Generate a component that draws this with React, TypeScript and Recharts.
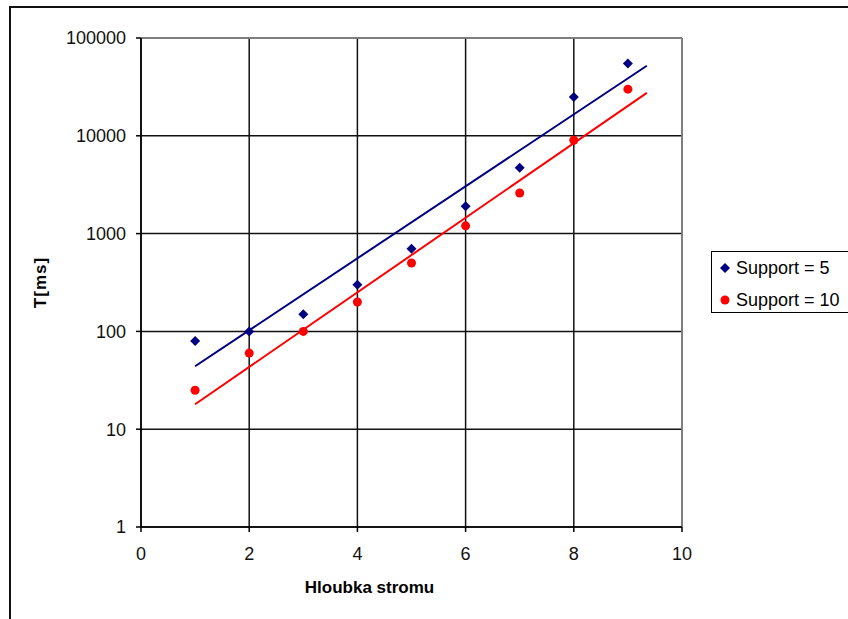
import {
  CartesianGrid,
  Legend,
  ReferenceLine,
  Scatter,
  ScatterChart,
  XAxis,
  YAxis,
} from "recharts";

// hloubka stromu (x) a namerene casy T[ms]
const depth = [1, 2, 3, 4, 5, 6, 7, 8, 9];
const support5 = [80, 100, 150, 300, 700, 1900, 4700, 25000, 55000];
const support10 = [25, 60, 100, 200, 500, 1200, 2600, 9000, 30000];

// exponencialni trendy, koncove body
const trendX = [1, 9.35];
const trend5 = [44, 52000];
const trend10 = [18, 27500];

const xTicks = [0, 2, 4, 6, 8, 10];
const yTicks = [1, 10, 100, 1000, 10000, 100000];

const seriesNames = ["Support = 5", "Support = 10"];
const BLUE = "#000080";
const RED = "#FF0000";
const FONT = "'Liberation Sans', Arial, sans-serif";

const pts5 = depth.map((x, i) => ({ x, y: support5[i] }));
const pts10 = depth.map((x, i) => ({ x, y: support10[i] }));
const line5 = trendX.map((x, i) => ({ x, y: trend5[i] }));
const line10 = trendX.map((x, i) => ({ x, y: trend10[i] }));

function Diamond(props: any) {
  const { cx, cy } = props;
  const r = 5;
  return (
    <polygon
      points={`${cx},${cy - r} ${cx + r},${cy} ${cx},${cy + r} ${cx - r},${cy}`}
      fill={BLUE}
    />
  );
}

function Dot(props: any) {
  return <circle cx={props.cx} cy={props.cy} r={4.5} fill={RED} />;
}

function NoMarker() {
  return <g />;
}

function YTitle(props: any) {
  const vb = props.viewBox;
  const x = vb.x + 40;
  const y = vb.y + vb.height / 2;
  return (
    <text
      x={x}
      y={y}
      transform={`rotate(-90 ${x} ${y})`}
      textAnchor="middle"
      dominantBaseline="central"
      fontFamily={FONT}
      fontWeight="bold"
      fontSize={17}
      letterSpacing={1}
      fill="#000"
    >
      T[ms]
    </text>
  );
}

function XTitle(props: any) {
  const vb = props.viewBox;
  return (
    <text
      x={vb.x + vb.width / 2 - 42}
      y={vb.y + 66}
      textAnchor="middle"
      fontFamily={FONT}
      fontWeight="bold"
      fontSize={17}
      fill="#000"
    >
      Hloubka stromu
    </text>
  );
}

function LegendBox() {
  return (
    <div
      style={{
        width: 150,
        height: 62,
        border: "1px solid #000",
        background: "#fff",
        fontFamily: FONT,
        fontSize: 18,
        color: "#000",
        boxSizing: "border-box",
      }}
    >
      {seriesNames.map((name, i) => (
        <div
          key={name}
          style={{
            display: "flex",
            alignItems: "center",
            height: 32,
            paddingLeft: 7,
          }}
        >
          <svg width={12} height={12} style={{ marginRight: 5 }}>
            {i === 0 ? (
              <polygon points="6,1 11,6 6,11 1,6" fill={BLUE} />
            ) : (
              <circle cx={6} cy={6} r={4.5} fill={RED} />
            )}
          </svg>
          <span>{name}</span>
        </div>
      ))}
    </div>
  );
}

export default function App() {
  const tick = { fontSize: 18, fill: "#111", fontFamily: FONT };
  return (
    <div
      style={{
        position: "absolute",
        left: 0,
        top: 0,
        width: 848,
        height: 619,
        overflow: "hidden",
        background: "#fff",
      }}
    >
      <div
        style={{
          position: "absolute",
          left: 9,
          top: 6,
          width: 900,
          height: 700,
          borderLeft: "2px solid #111",
          borderTop: "2px solid #111",
        }}
      />
      <div style={{ position: "absolute", left: 0, top: 0 }}>
        <ScatterChart
          width={848}
          height={619}
          margin={{ top: 38, right: 166, bottom: 0, left: 0 }}
        >
          <CartesianGrid stroke="#111" strokeWidth={1.5} />
          <XAxis
            type="number"
            dataKey="x"
            domain={[0, 10]}
            ticks={xTicks}
            height={92}
            tick={tick}
            tickSize={5}
            tickMargin={15}
            axisLine={{ stroke: "#000", strokeWidth: 1.5 }}
            tickLine={{ stroke: "#000", strokeWidth: 1.5 }}
            label={<XTitle />}
          />
          <YAxis
            type="number"
            dataKey="y"
            scale="log"
            domain={[1, 100000]}
            allowDataOverflow
            ticks={yTicks}
            width={141}
            tick={tick}
            tickSize={5}
            tickMargin={10}
            tickFormatter={(v: number) => String(v)}
            axisLine={{ stroke: "#000", strokeWidth: 1.5 }}
            tickLine={{ stroke: "#000", strokeWidth: 1.5 }}
            label={<YTitle />}
          />
          <ReferenceLine y={100000} stroke="#909090" strokeWidth={1.5} />
          <ReferenceLine x={10} stroke="#909090" strokeWidth={1.5} />
          <Legend
            layout="vertical"
            align="center"
            verticalAlign="middle"
            wrapperStyle={{ left: 711, top: 251, width: 150 }}
            content={<LegendBox />}
          />
          <Scatter
            data={line5}
            line={{ stroke: BLUE, strokeWidth: 2 }}
            shape={<NoMarker />}
            legendType="none"
            isAnimationActive={false}
          />
          <Scatter
            data={line10}
            line={{ stroke: RED, strokeWidth: 2 }}
            shape={<NoMarker />}
            legendType="none"
            isAnimationActive={false}
          />
          <Scatter
            name={seriesNames[0]}
            data={pts5}
            shape={<Diamond />}
            isAnimationActive={false}
          />
          <Scatter
            name={seriesNames[1]}
            data={pts10}
            shape={<Dot />}
            isAnimationActive={false}
          />
        </ScatterChart>
      </div>
    </div>
  );
}
